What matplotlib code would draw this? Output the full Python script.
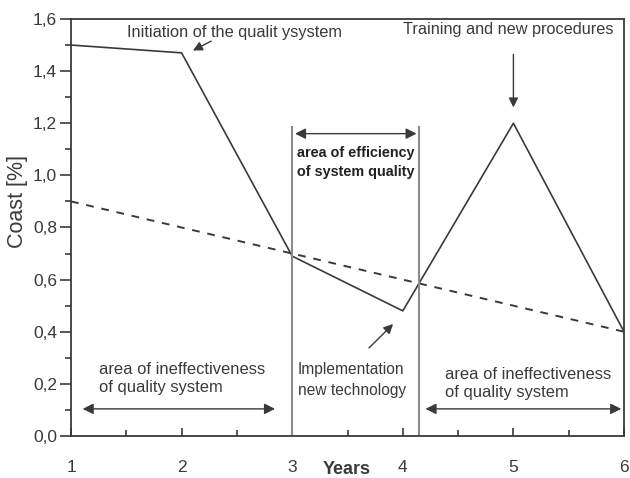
import matplotlib
matplotlib.use("Agg")

import matplotlib.pyplot as plt
from matplotlib.ticker import MultipleLocator, FuncFormatter

plt.rcParams["font.family"] = ["Liberation Sans", "DejaVu Sans"]

years = [1, 2, 3, 4, 5, 6]
cost_actual = [1.50, 1.47, 0.69, 0.48, 1.20, 0.40]
trend_years = [1, 6]
cost_trend = [0.90, 0.40]

efficiency_start = 3.0
efficiency_end = 4.15
boundary_top = 1.19

dark = "#3a3a3a"
gray = "#8c8c8c"

fig = plt.figure(figsize=(6.3, 4.78), dpi=100)
ax = fig.add_axes([0.1127, 0.0879, 0.8778, 0.8724])

ax.plot(years, cost_actual, color=dark, lw=1.2)
ax.plot(trend_years, cost_trend, color=dark, lw=1.4, ls=(0, (4, 4)))

ax.vlines([efficiency_start, efficiency_end], 0, boundary_top, color=gray, lw=1.5)

ax.set_xlim(1, 6)
ax.set_ylim(0, 1.6)
ax.xaxis.set_major_locator(MultipleLocator(1))
ax.xaxis.set_minor_locator(MultipleLocator(0.5))
ax.yaxis.set_major_locator(MultipleLocator(0.2))
ax.yaxis.set_minor_locator(MultipleLocator(0.1))
ax.yaxis.set_major_formatter(FuncFormatter(lambda v, p: f"{v:.1f}".replace(".", ",")))

ax.tick_params(axis="x", which="both", direction="in", pad=17, labelsize=12.5, colors=dark)
ax.tick_params(axis="x", which="major", length=6, width=1.2)
ax.tick_params(axis="x", which="minor", length=4, width=1.2)
ax.tick_params(axis="y", which="both", direction="out", labelsize=12.5, colors=dark, pad=2)
ax.tick_params(axis="y", which="major", length=8, width=1.2)
ax.tick_params(axis="y", which="minor", length=4, width=1.2)
for s in ax.spines.values():
    s.set_color(dark)
    s.set_linewidth(1.3)

ax.set_ylabel("Coast [%]", fontsize=15.5, color=dark)
ax.yaxis.set_label_coords(-0.078, 0.563)
fig.text(0.551, 0.0, "Years", ha="center", va="bottom", fontsize=13,
         fontweight="bold", color=dark)

arrow = dict(arrowstyle="-|>", color=dark, lw=1.0, mutation_scale=14)
darrow = dict(arrowstyle="<|-|>", color=dark, lw=1.0, mutation_scale=16)

ax.text(2.48, 1.55, "Initiation of the qualit ysystem", ha="center", va="center",
        fontsize=11.8, color=dark)
ax.annotate("", xy=(2.08, 1.474), xytext=(2.29, 1.52), arrowprops=arrow)

ax.text(4.95, 1.558, "Training and new procedures", ha="center", va="center",
        fontsize=11.7, color=dark)
ax.annotate("", xy=(5.0, 1.25), xytext=(5.0, 1.475), arrowprops=arrow)

ax.annotate("", xy=(efficiency_start, 1.16), xytext=(efficiency_end, 1.16), arrowprops=darrow)
ax.text(3.575, 1.051, "area of efficiency\nof system quality", ha="center", va="center",
        fontsize=10.4, fontweight="bold", color="#222222", linespacing=1.45)

ax.annotate("", xy=(3.93, 0.437), xytext=(3.676, 0.33), arrowprops=arrow)
ax.text(3.05, 0.215, "Implementation\nnew technology", ha="left", va="center",
        fontsize=11.2, color=dark, linespacing=1.5)

ax.text(1.253, 0.222, "area of ineffectiveness\nof quality system", ha="left", va="center",
        fontsize=11.9, color=dark, linespacing=1.25)
ax.annotate("", xy=(1.08, 0.104), xytext=(2.87, 0.104), arrowprops=darrow)

ax.text(4.38, 0.203, "area of ineffectiveness\nof quality system", ha="left", va="center",
        fontsize=11.9, color=dark, linespacing=1.25)
ax.annotate("", xy=(4.18, 0.104), xytext=(6.0, 0.104), arrowprops=darrow)

plt.savefig("out.png", dpi=100)
